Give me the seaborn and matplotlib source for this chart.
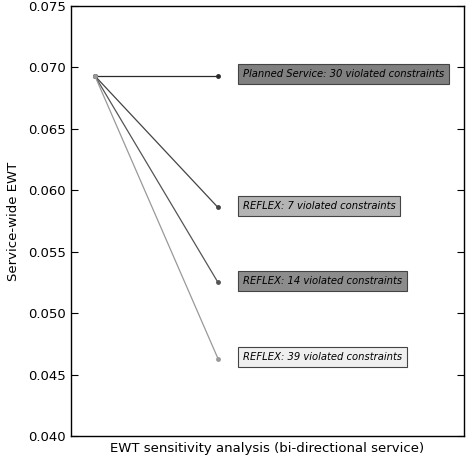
import pandas as pd
import numpy as np
import matplotlib
matplotlib.use('Agg')
import matplotlib.pyplot as plt
import seaborn as sns

# ── Data ─────────────────────────────────────────────────────
series_names = ['Planned Service', 'REFLEX 7', 'REFLEX 14', 'REFLEX 39']
labels = ['Planned Service: 30 violated constraints',
          'REFLEX: 7 violated constraints',
          'REFLEX: 14 violated constraints',
          'REFLEX: 39 violated constraints']
start_ewt = [0.0693, 0.0693, 0.0693, 0.0693]
end_ewt = [0.0693, 0.0586, 0.0525, 0.0463]
line_colors = ['#2a2a2a', '#444444', '#555555', '#999999']
box_colors = ['#808080', '#b4b4b4', '#8c8c8c', '#efefef']

rows = []
for name, s, e in zip(series_names, start_ewt, end_ewt):
    rows.append({'series': name, 'x': 0.0, 'ewt': s})
    rows.append({'series': name, 'x': 1.0, 'ewt': e})
df = pd.DataFrame(rows)

sns.set_style("white")
plt.rcParams['font.family'] = ['DejaVu Sans']
plt.rcParams['text.color'] = 'black'
plt.rcParams['axes.labelcolor'] = 'black'
plt.rcParams['ytick.direction'] = 'in'

fig = plt.figure(figsize=(4.73, 4.57), dpi=100)
ax = fig.add_axes([0.150, 0.046, 0.831, 0.941])

sns.lineplot(data=df, x='x', y='ewt', hue='series', palette=dict(zip(series_names, line_colors)),
             marker='o', markersize=3.5, markeredgewidth=0, linewidth=0.9, legend=False, ax=ax)

for lab, e, bc in zip(labels, end_ewt, box_colors):
    ax.text(1.2, e + 0.00015, lab, fontsize=7.2, style='italic', va='center', ha='left', color='black',
            bbox=dict(boxstyle='square,pad=0.5', facecolor=bc, edgecolor='#444444', linewidth=0.8))

ax.set_xlim(-0.195, 3.0)
ax.set_ylim(0.040, 0.075)
ax.set_yticks(np.arange(0.040, 0.0751, 0.005))
ax.set_yticklabels([f"{v:.3f}" for v in np.arange(0.040, 0.0751, 0.005)])
ax.set_xticks([])
ax.tick_params(axis='y', which='both', left=True, right=True, length=5, width=0.8,
               labelsize=9.5, colors='black')
ax.set_xlabel("EWT sensitivity analysis (bi-directional service)", fontsize=9.5, labelpad=4)
ax.set_ylabel("Service-wide EWT", fontsize=9.5, labelpad=6)
for sp in ax.spines.values():
    sp.set_color('black')
    sp.set_linewidth(1.0)

fig.savefig('out.png', dpi=100)
